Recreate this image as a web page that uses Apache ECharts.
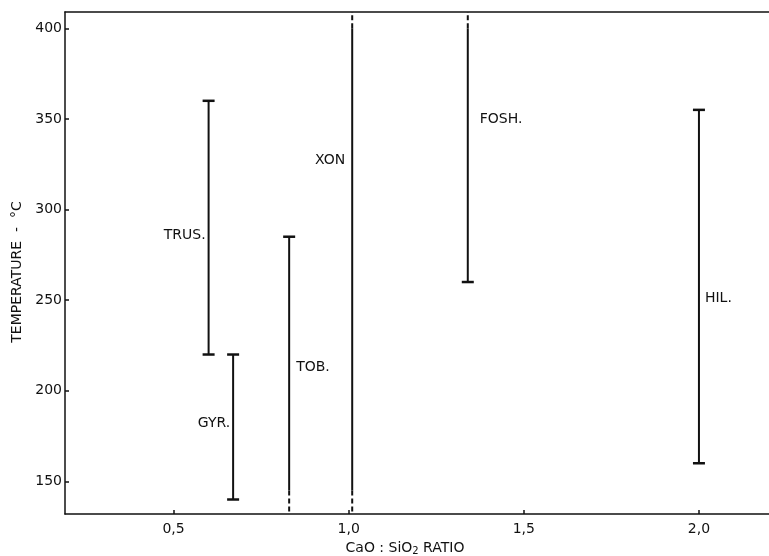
<!DOCTYPE html>
<html><head><meta charset="utf-8">
<script src="https://cdn.jsdelivr.net/npm/echarts@6/dist/echarts.min.js"></script>
<style>html,body{margin:0;padding:0;background:#fff}#c{width:769px;height:556px}</style>
</head><body><div id="c"></div>
<script>
// ---- data ----
const minerals   = ['TRUS.', 'GYR.', 'TOB.', 'XON', 'FOSH.', 'HIL.'];
const caoSiO2    = [0.60, 0.67, 0.83, 1.01, 1.34, 2.00];
const solidLow   = [220, 140, 145, 145, 260, 160];
const solidHigh  = [360, 220, 285, 400, 400, 355];
const dashedLow  = [null, null, 132, 132, null, null];   // dashed continuation below
const dashedHigh = [null, null, null, 409, 409, null];   // dashed continuation above
const capLow     = [true, true, false, false, true, true];
const capHigh    = [true, true, true, false, false, true];
const labelTemp  = [286, 182, 213, 327, 350, 251];
const labelSide  = ['left', 'left', 'right', 'left', 'right', 'right'];
const xTicks     = [0.5, 1.0, 1.5, 2.0];
const yTicks     = [150, 200, 250, 300, 350, 400];

// ---- style ----
const INK = '#111';
const FONT = 'DejaVu Sans';
const labelGap = [3, 3, 7, 7, 12, 6];

const chart = echarts.init(document.getElementById('c'), null, {renderer: 'canvas'});

function renderItem(params, api) {
  const i = params.dataIndex;
  const x = api.value(0);
  const pLo = api.coord([x, solidLow[i]]);
  const pHi = api.coord([x, solidHigh[i]]);
  const kids = [];
  kids.push({type: 'line', shape: {x1: pLo[0], y1: pLo[1], x2: pHi[0], y2: pHi[1]},
             style: {stroke: INK, lineWidth: 2}});
  if (dashedLow[i] != null) {
    const p = api.coord([x, dashedLow[i]]);
    kids.push({type: 'line', shape: {x1: pLo[0], y1: pLo[1], x2: p[0], y2: p[1]},
               style: {stroke: INK, lineWidth: 2, lineDash: [5, 3]}});
  }
  if (dashedHigh[i] != null) {
    const p = api.coord([x, dashedHigh[i]]);
    kids.push({type: 'line', shape: {x1: pHi[0], y1: pHi[1], x2: p[0], y2: p[1]},
               style: {stroke: INK, lineWidth: 2, lineDash: [5, 3]}});
  }
  const half = 6;
  if (capLow[i]) kids.push({type: 'line', shape: {x1: pLo[0] - half, y1: pLo[1], x2: pLo[0] + half, y2: pLo[1]},
                            style: {stroke: INK, lineWidth: 2.5}});
  if (capHigh[i]) kids.push({type: 'line', shape: {x1: pHi[0] - half, y1: pHi[1], x2: pHi[0] + half, y2: pHi[1]},
                             style: {stroke: INK, lineWidth: 2.5}});
  const pl = api.coord([x, labelTemp[i]]);
  const left = labelSide[i] === 'left';
  kids.push({type: 'text', x: pl[0] + (left ? -labelGap[i] : labelGap[i]), y: pl[1],
             style: {text: minerals[i], fill: INK, font: '14px "' + FONT + '"',
                     align: left ? 'right' : 'left', verticalAlign: 'middle'}});
  return {type: 'group', children: kids};
}

const option = {
  backgroundColor: '#fff',
  animation: false,
  grid: {left: 65, right: 0, top: 12, bottom: 42, containLabel: false, outerBoundsMode: 'none'},
  xAxis: [{
    type: 'value', min: 0.19, max: 2.2, position: 'bottom',
    name: '{n|CaO : SiO}{s|2}{n| RATIO}', nameLocation: 'middle', nameGap: 25,
    nameTextStyle: {padding: [0, 24, 0, 0],
      rich: {n: {fontFamily: FONT, fontSize: 14, color: INK},
             s: {fontFamily: FONT, fontSize: 10, color: INK, verticalAlign: 'bottom', padding: [7, 0, 0, 0]}}},
    axisLine: {show: true, lineStyle: {color: INK, width: 1.5}},
    axisTick: {show: true, inside: true, length: 4, customValues: xTicks, lineStyle: {color: INK, width: 1.5}},
    axisLabel: {show: true, customValues: xTicks, margin: 8, color: INK, fontFamily: FONT, fontSize: 14,
                formatter: v => v.toFixed(1).replace('.', ',')},
    splitLine: {show: false}
  }, {
    type: 'value', min: 0.19, max: 2.2, position: 'top',
    axisLine: {show: true, lineStyle: {color: INK, width: 1.5}},
    axisTick: {show: false}, axisLabel: {show: false}, splitLine: {show: false}
  }],
  yAxis: {
    type: 'value', min: 132, max: 409,
    name: 'TEMPERATURE  -  °C', nameLocation: 'middle', nameGap: 41, nameRotate: 90,
    nameTextStyle: {fontFamily: FONT, fontSize: 14, color: INK, padding: [0, 18, 0, 0]},
    axisLine: {show: true, lineStyle: {color: INK, width: 1.5}},
    axisTick: {show: true, inside: true, length: 4, customValues: yTicks, lineStyle: {color: INK, width: 1.5}},
    axisLabel: {show: true, customValues: yTicks, margin: 3, color: INK, fontFamily: FONT, fontSize: 14},
    splitLine: {show: false}
  },
  series: [{
    type: 'custom',
    coordinateSystem: 'cartesian2d',
    xAxisIndex: 0,
    clip: false,
    renderItem: renderItem,
    encode: {x: 0, y: [1, 2]},
    data: caoSiO2.map((x, i) => [x, solidLow[i], solidHigh[i]])
  }]
};
chart.setOption(option);
</script>
</body></html>
